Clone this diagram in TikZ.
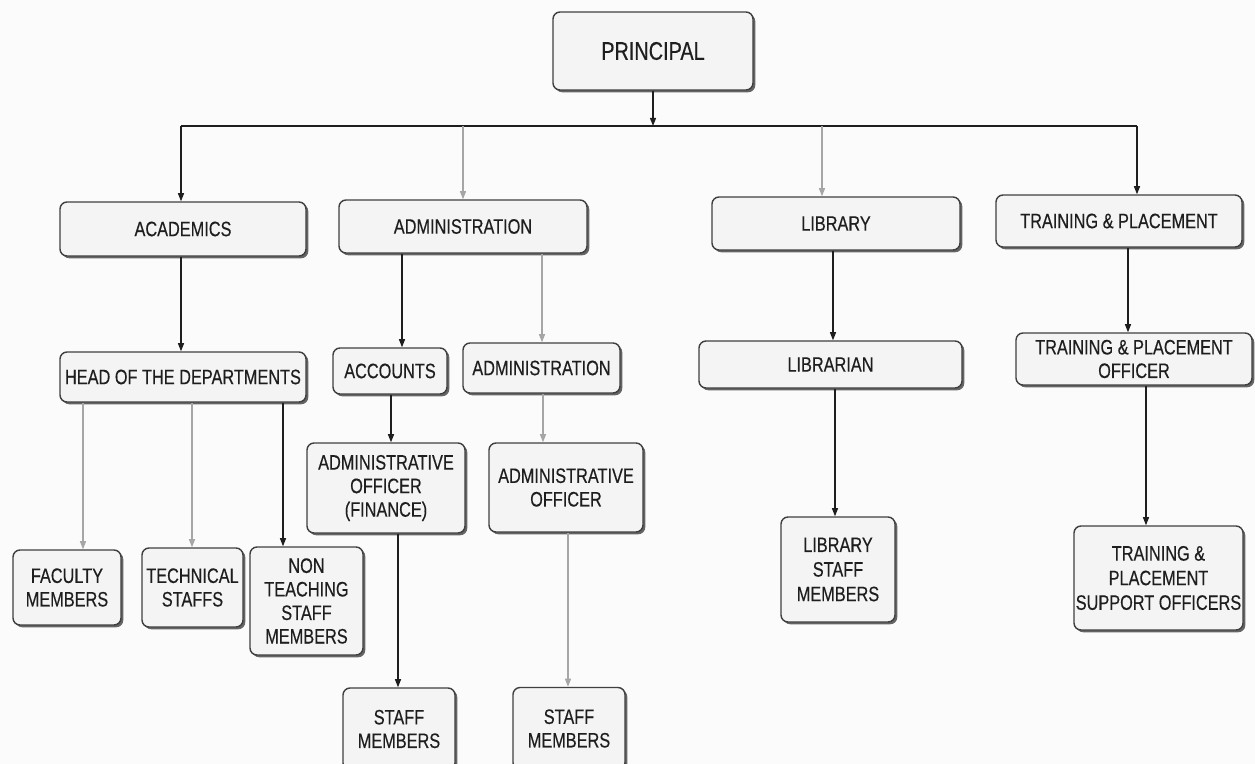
\documentclass[tikz,border=0pt]{standalone}
\usepackage{fontspec}
\setmainfont[FakeStretch=0.78,FakeBold=0.35]{Liberation Sans}
\usetikzlibrary{shadows,arrows.meta}
\definecolor{bg}{HTML}{FBFBFB}
\definecolor{boxfill}{HTML}{F4F4F4}
\definecolor{ink}{HTML}{1E1E1E}
\begin{document}
\begin{tikzpicture}[x=0.02cm,y=-0.02cm,
  box/.style={draw=ink!85, line width=0.8pt, rounded corners=4pt, fill=boxfill,
    inner sep=1pt, align=center, text=ink, font=\fontsize{11.9}{13.4}\selectfont,
    drop shadow={shadow xshift=1.3pt, shadow yshift=-1.3pt, fill=black!75, opacity=0.8}},
  sz/.style 2 args={minimum width=#1*0.02cm, minimum height=#2*0.02cm},
  arr/.style={-{Triangle[length=4.6pt,width=3.4pt]}, line width=0.8pt, draw=ink},
  arrg/.style={arr, draw=gray!70},
  bus/.style={line width=1.1pt, draw=ink}]
\path[use as bounding box, fill=bg] (0,0) rectangle (1255,764);
\clip (0,0) rectangle (1255,764);

% boxes
\node[box, sz={200}{78}, font=\fontsize{14.5}{16}\selectfont] (principal) at (653,51) {PRINCIPAL};
\node[box, sz={246}{54}] (acad) at (183,229) {ACADEMICS};
\node[box, sz={248}{53}] (adm) at (463,226.5) {ADMINISTRATION};
\node[box, sz={248}{53}] (lib) at (836,223.5) {LIBRARY};
\node[box, sz={246}{52}] (tp) at (1119,221) {TRAINING \& PLACEMENT};

\node[box, sz={246}{50}] (hod) at (183,377) {HEAD OF THE DEPARTMENTS};
\node[box, sz={114}{46}] (acc) at (390,371) {ACCOUNTS};
\node[box, sz={157}{50}] (adm2) at (541.5,368) {ADMINISTRATION};
\node[box, sz={263}{47}] (librn) at (830.5,364.5) {LIBRARIAN};
\node[box, sz={236}{52}] (tpo) at (1134,359) {TRAINING \& PLACEMENT\\OFFICER};

\node[box, sz={158}{90}] (aof) at (386,488) {ADMINISTRATIVE\\OFFICER\\(FINANCE)};
\node[box, sz={154}{89}] (ao) at (566,487.5) {ADMINISTRATIVE\\OFFICER};

\node[box, sz={108}{75}] (fac) at (67,587.5) {FACULTY\\MEMBERS};
\node[box, sz={101}{79}] (tech) at (192.5,587.5) {TECHNICAL\\STAFFS};
\node[box, sz={113}{108}] (nont) at (306.5,601) {NON\\TEACHING\\STAFF\\MEMBERS};
\node[box, sz={114}{105}, font=\fontsize{11.9}{14}\selectfont] (libst) at (838,569.5) {LIBRARY\\STAFF\\MEMBERS};
\node[box, sz={145}{104}, font=\fontsize{11.9}{14}\selectfont] (tps) at (1158.5,578) {TRAINING \&\\PLACEMENT\\SUPPORT OFFICERS};

\node[box, sz={112}{82}] (stf1) at (399,729) {STAFF\\MEMBERS};
\node[box, sz={112}{82}] (stf2) at (569,728.5) {STAFF\\MEMBERS};

% x positions of connectors
\coordinate (busL) at (181,126);
\coordinate (busR) at (1137,126);
\coordinate (xlib) at (822,0);
\coordinate (xacc) at (402,0);
\coordinate (xadm) at (542,0);
\coordinate (xlibrn) at (833,0);
\coordinate (xtpo) at (1128,0);
\coordinate (xfac) at (83,0);
\coordinate (xtech) at (192,0);
\coordinate (xnont) at (283,0);
\coordinate (xaof) at (391,0);
\coordinate (xao) at (543,0);
\coordinate (xstf1) at (398,0);
\coordinate (xstf2) at (568,0);
\coordinate (xlibst) at (835,0);
\coordinate (xtps) at (1146,0);

% connectors
\draw[bus] (busL) -- (busR);
\draw[arr] (principal.south) -- (principal.south |- busL);
\draw[arr] (busL) -- (acad.north -| busL);
\draw[arrg] (adm.north |- busL) -- (adm.north);
\draw[arrg] (xlib |- busL) -- (lib.north -| xlib);
\draw[arr] (busR) -- (tp.north -| busR);

\draw[arr] (acad.south -| busL) -- (hod.north -| busL);
\draw[arr] (adm.south -| xacc) -- (acc.north -| xacc);
\draw[arrg] (adm.south -| xadm) -- (adm2.north -| xadm);
\draw[arr] (lib.south -| xlibrn) -- (librn.north -| xlibrn);
\draw[arr] (tp.south -| xtpo) -- (tpo.north -| xtpo);

\draw[arrg] (hod.south -| xfac) -- (fac.north -| xfac);
\draw[arrg] (hod.south -| xtech) -- (tech.north -| xtech);
\draw[arr] (hod.south -| xnont) -- (nont.north -| xnont);
\draw[arr] (acc.south -| xaof) -- (aof.north -| xaof);
\draw[arrg] (adm2.south -| xao) -- (ao.north -| xao);
\draw[arr] (aof.south -| xstf1) -- (stf1.north -| xstf1);
\draw[arrg] (ao.south -| xstf2) -- (stf2.north -| xstf2);
\draw[arr] (librn.south -| xlibst) -- (libst.north -| xlibst);
\draw[arr] (tpo.south -| xtps) -- (tps.north -| xtps);
\end{tikzpicture}
\end{document}
